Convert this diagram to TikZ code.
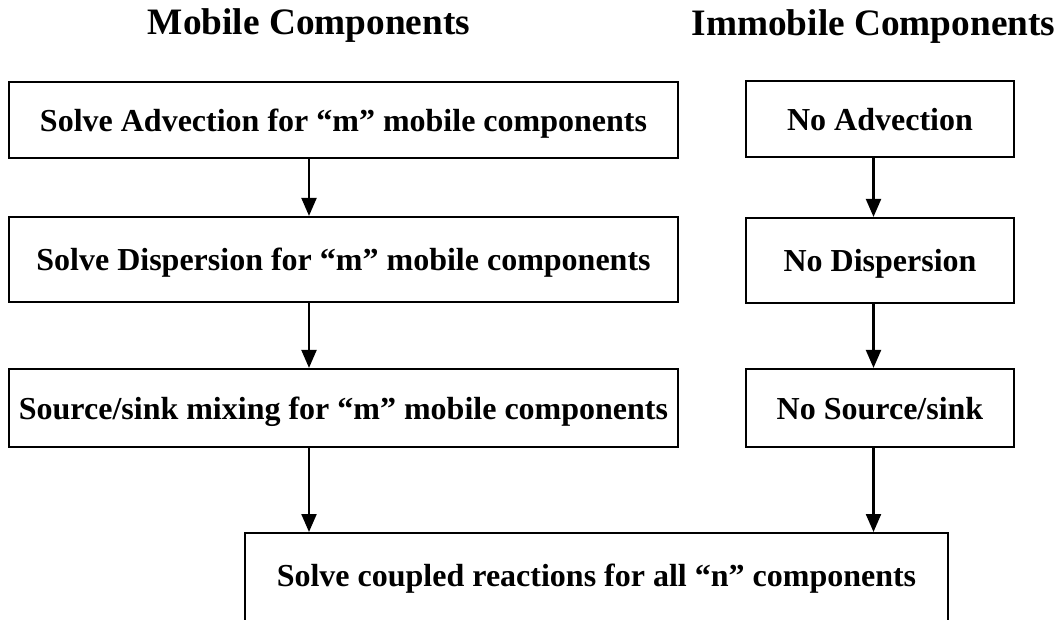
\documentclass[tikz,border=0pt]{standalone}
\usepackage{fontspec}
\setmainfont{Liberation Serif}
\usepackage{tikz}
\usetikzlibrary{arrows.meta,calc}

\newcommand{\boxfont}{\fontsize{32}{38}\selectfont\bfseries}
\newcommand{\headfont}{\fontsize{37.3}{44}\selectfont\bfseries}

\begin{document}
\begin{tikzpicture}[x=1pt,y=-1pt,thick]
        \tikzstyle{heading} = [font=\headfont,inner sep=0pt,anchor=base]
        \tikzstyle{process} = [draw,line width=2.2pt,font=\boxfont,inner sep=0pt,text depth=0pt]
        \tikzstyle{flow} = [line width=2.2pt,-{Triangle[width=15pt,length=18pt]}]
        %
        \useasboundingbox (0,0) rectangle (1060,620);
        \clip (0,0) rectangle (1060,620);
        % Headings.
        \node[heading] (mobile) at (309,35) {Mobile Components};
        \node[heading] (immobile) at (873.5,36) {Immobile Components};
        % Mobile column.
        \node[process,minimum width=669pt,minimum height=76pt] (M1) at (343.5,120) {Solve Advection for ``m'' mobile components};
        \node[process,minimum width=669pt,minimum height=85pt] (M2) at (343.5,259.5) {Solve Dispersion for ``m'' mobile components};
        \node[process,minimum width=669pt,minimum height=78pt] (M3) at (343.5,408) {Source/sink mixing for ``m'' mobile components};
        % Immobile column.
        \node[process,minimum width=268pt,minimum height=76pt] (I1) at (880,119) {No Advection};
        \node[process,minimum width=268pt,minimum height=85pt] (I2) at (880,260.5) {No Dispersion};
        \node[process,minimum width=268pt,minimum height=78pt] (I3) at (880,408) {No Source/sink};
        % Reaction step, cut off at the bottom.
        \node[process,anchor=north,minimum width=703pt,text height=53pt,text depth=100pt] (R) at (596.5,532) {Solve coupled reactions for all ``n'' components};
        % Draw arrows.
        \draw[flow] (M1.south -| mobile) -- (M2.north -| mobile);
        \draw[flow] (M2.south -| mobile) -- (M3.north -| mobile);
        \draw[flow] (M3.south -| mobile) -- (R.north -| mobile);
        \draw[flow] (I1.south -| immobile) -- (I2.north -| immobile);
        \draw[flow] (I2.south -| immobile) -- (I3.north -| immobile);
        \draw[flow] (I3.south -| immobile) -- (R.north -| immobile);
\end{tikzpicture}
\end{document}
